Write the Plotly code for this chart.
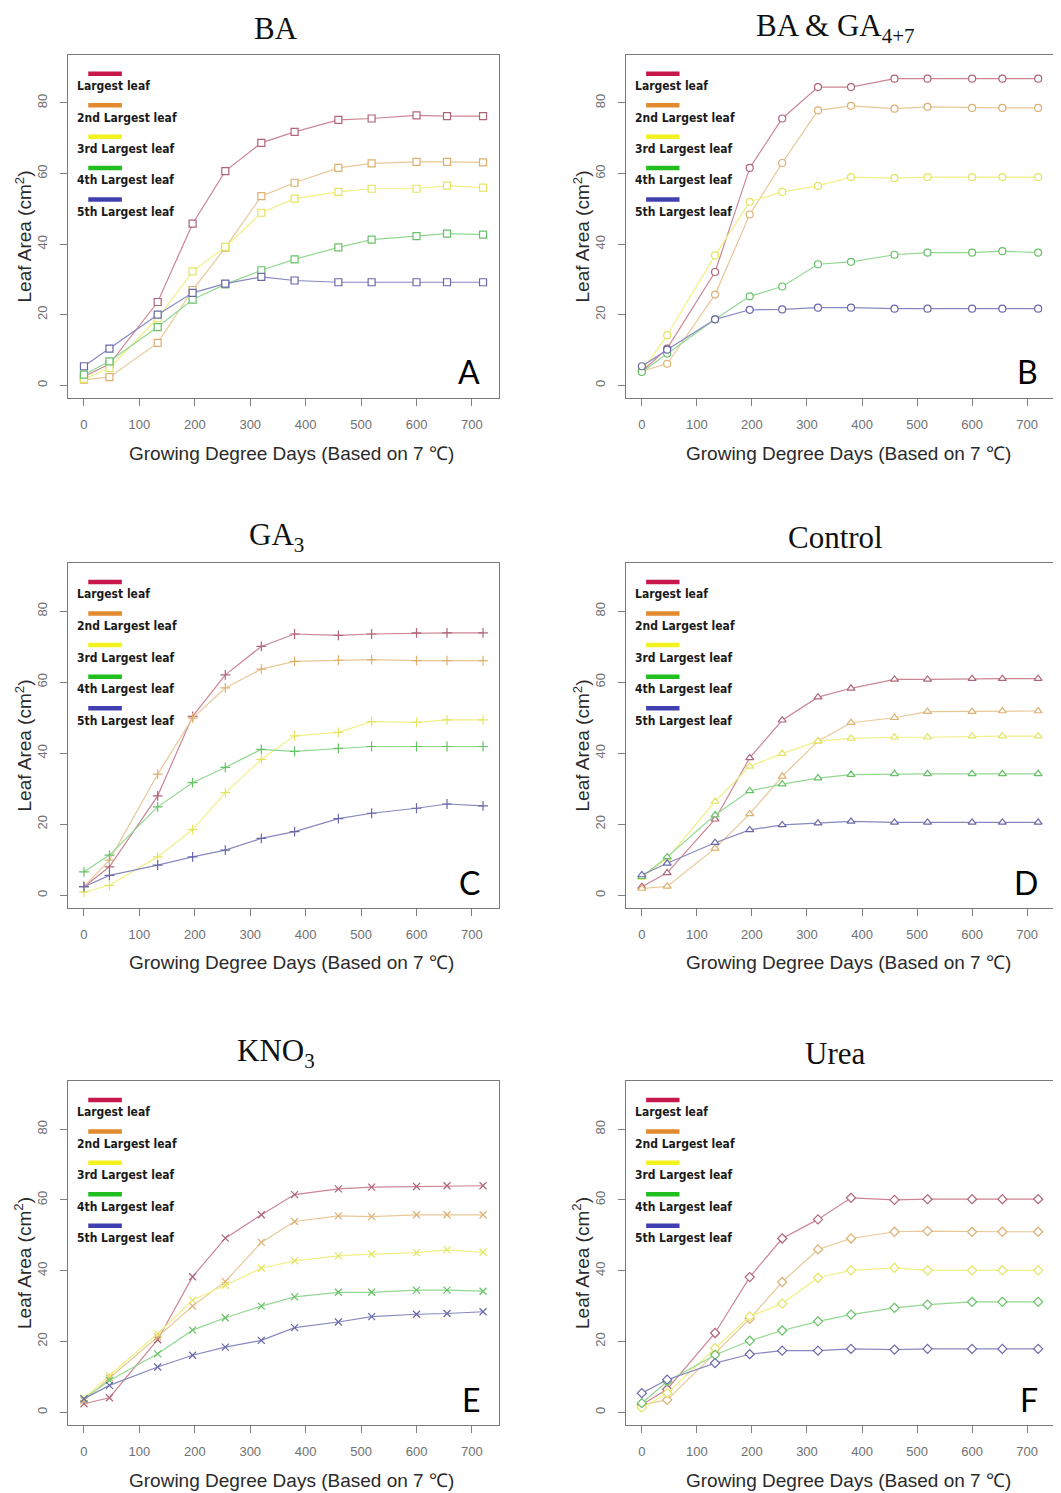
import plotly.graph_objects as go

# ---------------- data ----------------
gdd = [0, 46, 133, 196, 255, 320, 380, 459, 519, 600, 655, 720]
x_ticks = [0, 100, 200, 300, 400, 500, 600, 700]
y_ticks = [0, 20, 40, 60, 80]
leaf_names = ["Largest leaf", "2nd Largest leaf", "3rd Largest leaf",
              "4th Largest leaf", "5th Largest leaf"]

# A: BA
ba_1 = [2.5, 6.0, 23.6, 45.8, 60.7, 68.7, 71.8, 75.2, 75.6, 76.5, 76.3, 76.3]
ba_2 = [1.6, 2.3, 12.0, 27.0, 39.0, 53.6, 57.4, 61.6, 62.9, 63.3, 63.3, 63.2]
ba_3 = [1.8, 4.9, 19.0, 32.3, 39.2, 48.9, 52.9, 54.8, 55.7, 55.7, 56.6, 56.0]
ba_4 = [3.0, 6.8, 16.5, 24.3, 28.6, 32.6, 35.7, 39.1, 41.3, 42.3, 43.0, 42.7]
ba_5 = [5.4, 10.4, 20.0, 26.2, 28.8, 30.7, 29.7, 29.2, 29.2, 29.2, 29.2, 29.2]

# B: BA & GA4+7
bg_1 = [4.0, 10.4, 32.1, 61.6, 75.6, 84.5, 84.5, 86.9, 86.9, 86.9, 86.9, 86.9]
bg_2 = [4.0, 6.1, 25.7, 48.4, 63.0, 77.9, 79.2, 78.4, 78.9, 78.6, 78.6, 78.6]
bg_3 = [4.0, 14.2, 36.8, 52.0, 54.8, 56.5, 59.0, 58.7, 59.0, 59.0, 59.0, 59.0]
bg_4 = [3.8, 9.0, 18.7, 25.2, 28.0, 34.3, 35.0, 37.0, 37.6, 37.6, 38.0, 37.6]
bg_5 = [5.4, 10.1, 18.7, 21.4, 21.5, 22.0, 22.0, 21.7, 21.7, 21.7, 21.7, 21.7]

# C: GA3
ga_1 = [2.4, 8.0, 28.0, 50.4, 62.1, 70.1, 73.6, 73.2, 73.6, 73.9, 73.9, 73.9]
ga_2 = [2.4, 9.9, 34.1, 49.9, 58.4, 63.7, 65.9, 66.2, 66.4, 66.1, 66.1, 66.1]
ga_3 = [0.9, 2.8, 10.8, 18.5, 28.9, 38.3, 44.9, 45.9, 48.9, 48.7, 49.4, 49.4]
ga_4 = [6.6, 11.3, 24.9, 31.7, 36.0, 41.1, 40.5, 41.4, 41.9, 41.9, 41.9, 41.9]
ga_5 = [2.4, 5.6, 8.5, 10.8, 12.7, 16.0, 17.9, 21.6, 23.1, 24.5, 25.7, 25.2]

# D: Control
ct_1 = [2.4, 6.3, 21.4, 38.7, 49.3, 55.8, 58.3, 60.8, 60.8, 61.0, 61.0, 61.0]
ct_2 = [1.9, 2.5, 13.2, 22.9, 33.5, 43.4, 48.6, 50.0, 51.7, 51.7, 51.9, 51.9]
ct_3 = [5.0, 10.4, 26.4, 36.3, 39.9, 43.4, 44.2, 44.5, 44.5, 44.8, 44.8, 44.8]
ct_4 = [5.2, 10.8, 22.6, 29.4, 31.3, 33.0, 34.0, 34.2, 34.2, 34.2, 34.2, 34.2]
ct_5 = [5.7, 9.0, 14.8, 18.4, 19.8, 20.3, 20.8, 20.5, 20.5, 20.5, 20.5, 20.5]

# E: KNO3
kn_1 = [2.4, 4.1, 20.5, 38.3, 49.2, 55.8, 61.5, 63.1, 63.6, 63.8, 64.0, 64.0]
kn_2 = [3.3, 9.7, 21.3, 30.0, 36.9, 48.0, 53.9, 55.5, 55.3, 55.8, 55.8, 55.8]
kn_3 = [4.0, 10.4, 22.2, 31.7, 35.9, 40.7, 42.8, 44.2, 44.7, 45.1, 45.9, 45.2]
kn_4 = [3.8, 9.0, 16.5, 23.2, 26.7, 30.0, 32.6, 33.9, 33.9, 34.5, 34.5, 34.2]
kn_5 = [3.8, 7.6, 12.8, 16.1, 18.4, 20.3, 23.9, 25.5, 27.0, 27.7, 27.9, 28.4]

# F: Urea
ur_1 = [2.1, 6.5, 22.4, 38.2, 49.1, 54.5, 60.6, 60.0, 60.2, 60.2, 60.2, 60.2]
ur_2 = [2.1, 3.5, 16.7, 26.4, 36.8, 46.0, 49.1, 51.0, 51.2, 51.0, 51.0, 51.0]
ur_3 = [1.3, 5.4, 18.1, 27.1, 30.7, 38.0, 40.1, 40.8, 40.1, 40.1, 40.1, 40.1]
ur_4 = [2.6, 8.7, 16.2, 20.2, 23.1, 25.7, 27.6, 29.5, 30.4, 31.2, 31.2, 31.2]
ur_5 = [5.4, 9.2, 13.9, 16.4, 17.4, 17.4, 17.9, 17.7, 17.9, 17.9, 17.9, 17.9]

panel_titles = ["BA", "BA &amp; GA<sub><span style='font-size:21px'>4+7</span></sub>",
                "GA<sub><span style='font-size:21px'>3</span></sub>", "Control",
                "KNO<sub><span style='font-size:21px'>3</span></sub>", "Urea"]
panel_letters = ["A", "B", "C", "D", "E", "F"]
panel_series = [
    [ba_1, ba_2, ba_3, ba_4, ba_5],
    [bg_1, bg_2, bg_3, bg_4, bg_5],
    [ga_1, ga_2, ga_3, ga_4, ga_5],
    [ct_1, ct_2, ct_3, ct_4, ct_5],
    [kn_1, kn_2, kn_3, kn_4, kn_5],
    [ur_1, ur_2, ur_3, ur_4, ur_5],
]

# ---------------- styling ----------------
OFF = 8  # default page body margin
W, H = 1061 - OFF, 1493 - OFF
legend_colors = ["#C8174B", "#E38A2E", "#F2F21E", "#1FBF1F", "#4040B0"]
line_colors = ["#CB8595", "#E8C898", "#F0F088", "#92D892", "#8888C0"]
marker_colors = ["#B06478", "#DDB070", "#E4E462", "#66C266", "#6868AA"]
symbols = ["square", "circle", "cross-thin-open", "triangle-up", "x-thin-open", "diamond"]
filled_open = [True, True, False, True, False, True]

col_px = [(68, 499), (626, 1054)]
row_px = [(55, 398), (563, 908), (1081, 1425)]
title_x_px = [276, 835]
title_y_px = [28, 537, 1053]
letter_right_px = [482, 1040]


def fx(px):
    return (px - OFF) / W


def fy(py):
    return 1 - (py - OFF) / H


fig = go.Figure()

axis_font = dict(family="Liberation Sans, Arial, sans-serif", size=13, color="#707070")

for p in range(6):
    r, c = divmod(p, 2)
    n = p + 1
    xa = "x" if n == 1 else f"x{n}"
    ya = "y" if n == 1 else f"y{n}"
    for s in range(5):
        mk = dict(symbol=symbols[p], size=7)
        if filled_open[p]:
            mk.update(color="white", line=dict(color=marker_colors[s], width=1.2))
        else:
            mk.update(color=marker_colors[s], line=dict(color=marker_colors[s], width=1.2))
        fig.add_trace(go.Scatter(
            x=gdd, y=panel_series[p][s], mode="lines+markers",
            line=dict(color=line_colors[s], width=1.2),
            marker=mk, name=leaf_names[s], showlegend=False,
            xaxis=xa, yaxis=ya))

    x0, x1 = col_px[c]
    y0, y1 = row_px[r]
    xkey = "xaxis" if n == 1 else f"xaxis{n}"
    ykey = "yaxis" if n == 1 else f"yaxis{n}"
    fig.update_layout({
        xkey: dict(domain=[fx(x0), fx(x1)], anchor=ya, range=[-28.8, 748.8],
                   tickvals=x_ticks, ticks="outside", ticklen=7, tickcolor="#808080",
                   tickwidth=1, showline=True, mirror=True, linecolor="#7a7a7a",
                   linewidth=1.3, showgrid=False, zeroline=False,
                   tickfont=axis_font, ticklabelstandoff=7),
        ykey: dict(domain=[fy(y1), fy(y0)], anchor=xa, range=[-3.6, 93.6],
                   tickvals=y_ticks, ticks="outside", ticklen=7, tickcolor="#808080",
                   tickwidth=1, showline=True, mirror=True, linecolor="#7a7a7a",
                   linewidth=1.3, showgrid=False, zeroline=False,
                   tickfont=axis_font, tickangle=-90, ticklabelstandoff=8),
    })

    # title
    fig.add_annotation(text=panel_titles[p], xref="paper", yref="paper",
                       x=fx(title_x_px[c]), y=fy(title_y_px[r]),
                       xanchor="center", yanchor="middle", showarrow=False,
                       font=dict(family="Liberation Serif, Times New Roman, serif",
                                 size=31, color="#111111"))
    # x-axis title
    fig.add_annotation(text="Growing Degree Days (Based on 7 \u2103)", xref="paper", yref="paper",
                       x=fx((x0 + x1) / 2 + 8), y=fy(y1 + 55),
                       xanchor="center", yanchor="middle", showarrow=False,
                       font=dict(family="Liberation Sans, Arial, sans-serif", size=19,
                                 color="#2a2a2a"))
    # y-axis title
    fig.add_annotation(text="Leaf Area (cm<sup>2</sup>)", xref="paper", yref="paper",
                       x=fx(x0 - 45), y=fy((y0 + y1) / 2 + 10), textangle=-90,
                       xanchor="center", yanchor="middle", showarrow=False,
                       font=dict(family="Liberation Sans, Arial, sans-serif", size=19,
                                 color="#2a2a2a"))
    # panel letter
    fig.add_annotation(text=panel_letters[p], xref="paper", yref="paper",
                       x=fx(letter_right_px[c]), y=fy(y1 - 26),
                       xanchor="right", yanchor="middle", showarrow=False,
                       font=dict(family="Lato, Open Sans, sans-serif", size=32,
                                 color="#000000"))
    # custom legend
    for s in range(5):
        yb = 0.945 - 0.0915 * s
        yt = 0.909 - 0.0915 * s
        fig.add_shape(type="line", xref=f"{xa} domain", yref=f"{ya} domain",
                      x0=0.047, x1=0.125, y0=yb, y1=yb,
                      line=dict(color=legend_colors[s], width=4.5))
        fig.add_annotation(text="<b>" + leaf_names[s] + "</b>",
                           xref=f"{xa} domain", yref=f"{ya} domain",
                           x=0.017, y=yt, xanchor="left", yanchor="middle",
                           showarrow=False,
                           font=dict(family="Liberation Sans Narrow, DejaVu Sans Condensed, Arial Narrow, sans-serif",
                                     size=12, color="#1a1a1a"))

fig.update_layout(width=W, height=H, margin=dict(l=0, r=0, t=0, b=0),
                  paper_bgcolor="white", plot_bgcolor="white", showlegend=False)

fig.write_html("out.html")
